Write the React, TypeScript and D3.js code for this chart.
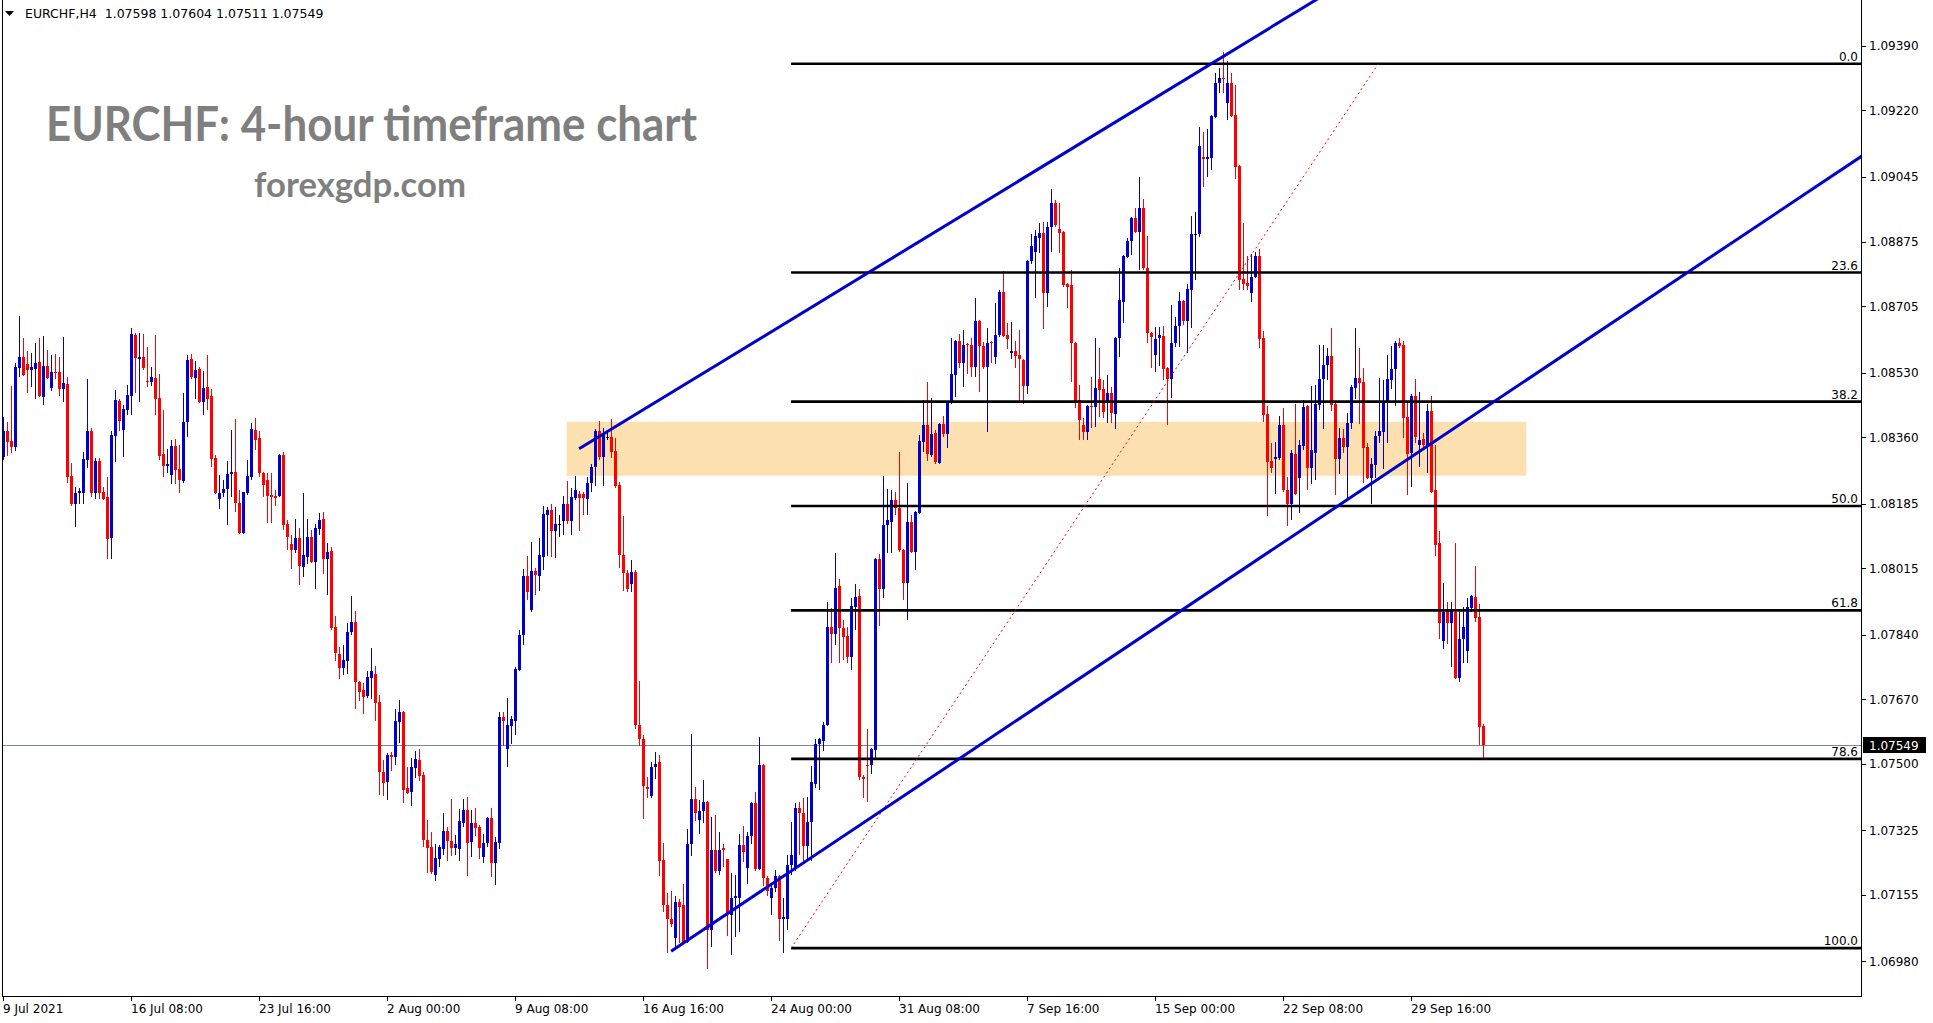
import React, { useEffect, useRef } from 'react';
import * as d3 from 'd3';

const W = 1933;
const H = 1023;
const PLOT = { left: 2, right: 1861, top: 0, bottom: 996 };
const BAR_SPACING = 4;

const headerText = 'EURCHF,H4  1.07598 1.07604 1.07511 1.07549';
const titleText = 'EURCHF: 4-hour timeframe chart';
const siteText = 'forexgdp.com';

// x axis: a label every 32 bars, starting at bar 0
const timeLabels = ['9 Jul 2021', '16 Jul 08:00', '23 Jul 16:00', '2 Aug 00:00', '9 Aug 08:00', '16 Aug 16:00',
  '24 Aug 00:00', '31 Aug 08:00', '7 Sep 16:00', '15 Sep 00:00', '22 Sep 08:00', '29 Sep 16:00'];
const timeLabelStep = 32;

const priceTicks = [1.09390, 1.09220, 1.09045, 1.08875, 1.08705, 1.08530, 1.08360, 1.08185,
  1.08015, 1.07840, 1.07670, 1.07500, 1.07325, 1.07155, 1.06980];
const priceDomain = [1.06888, 1.09511];

// EURCHF H4 candles, 9 Jul 2021 -> 4 Oct 2021
const opens = [
  1.08307, 1.08376, 1.08350, 1.08334, 1.08542, 1.08571, 1.08552, 1.08537, 1.08539, 1.08557,
  1.08465, 1.08547, 1.08489, 1.08531, 1.08531, 1.08486, 1.08500, 1.08257, 1.08183, 1.08212,
  1.08212, 1.08299, 1.08376, 1.08212, 1.08297, 1.08215, 1.08202, 1.08094, 1.08363, 1.08455,
  1.08378, 1.08431, 1.08468, 1.08629, 1.08566, 1.08571, 1.08508, 1.08505, 1.08516, 1.08463,
  1.08315, 1.08284, 1.08260, 1.08336, 1.08276, 1.08244, 1.08400, 1.08566, 1.08516, 1.08539,
  1.08452, 1.08491, 1.08468, 1.08305, 1.08197, 1.08212, 1.08223, 1.08263, 1.08268, 1.08186,
  1.08107, 1.08212, 1.08254, 1.08378, 1.08357, 1.08265, 1.08247, 1.08207, 1.08205, 1.08205,
  1.08312, 1.08131, 1.08078, 1.08062, 1.08094, 1.08018, 1.08044, 1.08097, 1.08031, 1.08118,
  1.08144, 1.08039, 1.08060, 1.07859, 1.07788, 1.07751, 1.07770, 1.07846, 1.07873, 1.07715,
  1.07693, 1.07677, 1.07725, 1.07735, 1.07662, 1.07478, 1.07451, 1.07522, 1.07517, 1.07609,
  1.07636, 1.07435, 1.07425, 1.07488, 1.07509, 1.07470, 1.07298, 1.07280, 1.07206, 1.07248,
  1.07275, 1.07322, 1.07296, 1.07277, 1.07275, 1.07343, 1.07377, 1.07293, 1.07343, 1.07333,
  1.07254, 1.07291, 1.07356, 1.07238, 1.07291, 1.07623, 1.07538, 1.07599, 1.07612, 1.07746,
  1.07838, 1.07994, 1.07904, 1.08007, 1.07994, 1.08044, 1.08154, 1.08168, 1.08113, 1.08131,
  1.08139, 1.08183, 1.08139, 1.08199, 1.08210, 1.08210, 1.08197, 1.08239, 1.08281, 1.08376,
  1.08307, 1.08360, 1.08360, 1.08324, 1.08234, 1.08049, 1.08002, 1.07973, 1.08004, 1.07601,
  1.07564, 1.07438, 1.07414, 1.07491, 1.07504, 1.07246, 1.07127, 1.07090, 1.07040, 1.07135,
  1.07127, 1.07030, 1.07288, 1.07407, 1.07351, 1.07375, 1.07399, 1.07062, 1.07272, 1.07217,
  1.07277, 1.07248, 1.07101, 1.07146, 1.07146, 1.07285, 1.07225, 1.07309, 1.07396, 1.07222,
  1.07496, 1.07198, 1.07146, 1.07172, 1.07204, 1.07090, 1.07090, 1.07233, 1.07222, 1.07383,
  1.07370, 1.07283, 1.07346, 1.07446, 1.07551, 1.07559, 1.07601, 1.07859, 1.07841, 1.07968,
  1.07857, 1.07836, 1.07780, 1.07912, 1.07941, 1.07464, 1.07496, 1.07496, 1.07536, 1.08039,
  1.07960, 1.08128, 1.08136, 1.08194, 1.08173, 1.08062, 1.07975, 1.08136, 1.08057, 1.08160,
  1.08347, 1.08392, 1.08312, 1.08371, 1.08291, 1.08394, 1.08368, 1.08450, 1.08523, 1.08613,
  1.08555, 1.08605, 1.08602, 1.08544, 1.08665, 1.08600, 1.08544, 1.08610, 1.08571, 1.08629,
  1.08742, 1.08629, 1.08581, 1.08587, 1.08576, 1.08563, 1.08494, 1.08824, 1.08847, 1.08884,
  1.08897, 1.08739, 1.08913, 1.08976, 1.08908, 1.08900, 1.08763, 1.08761, 1.08608, 1.08457,
  1.08392, 1.08373, 1.08442, 1.08439, 1.08513, 1.08486, 1.08450, 1.08476, 1.08421, 1.08621,
  1.08716, 1.08834, 1.08876, 1.08937, 1.08900, 1.08963, 1.08805, 1.08634, 1.08576, 1.08621,
  1.08626, 1.08542, 1.08513, 1.08608, 1.08652, 1.08718, 1.08665, 1.08747, 1.08895, 1.08895,
  1.09098, 1.09092, 1.09095, 1.09203, 1.09292, 1.09306, 1.09240, 1.09292, 1.09208, 1.09074,
  1.08776, 1.08766, 1.08739, 1.08781, 1.08837, 1.08621, 1.08421, 1.08297, 1.08302, 1.08305,
  1.08392, 1.08220, 1.08183, 1.08315, 1.08252, 1.08336, 1.08442, 1.08278, 1.08318, 1.08444,
  1.08513, 1.08550, 1.08573, 1.08447, 1.08302, 1.08357, 1.08334, 1.08397, 1.08489, 1.08516,
  1.08505, 1.08334, 1.08252, 1.08286, 1.08363, 1.08373, 1.08452, 1.08510, 1.08539, 1.08608,
  1.08602, 1.08413, 1.08318, 1.08468, 1.08339, 1.08355, 1.08339, 1.08428, 1.08220, 1.08081,
  1.07823, 1.07907, 1.07870, 1.07899, 1.07725, 1.07828, 1.07796, 1.07909, 1.07938, 1.07886,
  1.07598,
];

const highs = [
  1.08413, 1.08400, 1.08494, 1.08555, 1.08679, 1.08621, 1.08587, 1.08581, 1.08608, 1.08621,
  1.08626, 1.08589, 1.08576, 1.08578, 1.08571, 1.08623, 1.08518, 1.08291, 1.08228, 1.08225,
  1.08321, 1.08513, 1.08384, 1.08305, 1.08305, 1.08228, 1.08254, 1.08376, 1.08484, 1.08460,
  1.08444, 1.08497, 1.08647, 1.08634, 1.08634, 1.08631, 1.08597, 1.08544, 1.08629, 1.08526,
  1.08431, 1.08329, 1.08352, 1.08355, 1.08339, 1.08476, 1.08576, 1.08578, 1.08560, 1.08544,
  1.08534, 1.08576, 1.08486, 1.08312, 1.08260, 1.08247, 1.08297, 1.08378, 1.08407, 1.08220,
  1.08215, 1.08299, 1.08397, 1.08410, 1.08376, 1.08268, 1.08265, 1.08265, 1.08220, 1.08315,
  1.08320, 1.08141, 1.08102, 1.08144, 1.08120, 1.08212, 1.08144, 1.08115, 1.08131, 1.08160,
  1.08162, 1.08081, 1.08070, 1.07889, 1.07807, 1.07812, 1.07870, 1.07941, 1.07902, 1.07718,
  1.07712, 1.07743, 1.07804, 1.07756, 1.07680, 1.07509, 1.07528, 1.07530, 1.07643, 1.07667,
  1.07638, 1.07491, 1.07514, 1.07533, 1.07538, 1.07478, 1.07351, 1.07320, 1.07288, 1.07285,
  1.07370, 1.07333, 1.07406, 1.07312, 1.07380, 1.07406, 1.07411, 1.07377, 1.07383, 1.07338,
  1.07314, 1.07359, 1.07383, 1.07306, 1.07636, 1.07636, 1.07672, 1.07625, 1.07754, 1.07852,
  1.08013, 1.08047, 1.08083, 1.08015, 1.08094, 1.08178, 1.08176, 1.08183, 1.08176, 1.08154,
  1.08204, 1.08244, 1.08225, 1.08257, 1.08218, 1.08215, 1.08254, 1.08289, 1.08381, 1.08402,
  1.08384, 1.08376, 1.08407, 1.08358, 1.08242, 1.08152, 1.08010, 1.08036, 1.08010, 1.07717,
  1.07575, 1.07464, 1.07504, 1.07530, 1.07522, 1.07291, 1.07159, 1.07164, 1.07151, 1.07143,
  1.07182, 1.07328, 1.07578, 1.07438, 1.07404, 1.07457, 1.07401, 1.07359, 1.07364, 1.07320,
  1.07288, 1.07250, 1.07212, 1.07206, 1.07314, 1.07335, 1.07320, 1.07399, 1.07425, 1.07570,
  1.07500, 1.07204, 1.07185, 1.07220, 1.07206, 1.07146, 1.07259, 1.07346, 1.07396, 1.07399,
  1.07409, 1.07411, 1.07494, 1.07564, 1.07567, 1.07609, 1.07925, 1.07909, 1.08054, 1.07986,
  1.07878, 1.07859, 1.07936, 1.07973, 1.07960, 1.07470, 1.07591, 1.07540, 1.08041, 1.08052,
  1.08257, 1.08223, 1.08220, 1.08215, 1.08321, 1.08065, 1.08239, 1.08154, 1.08165, 1.08365,
  1.08457, 1.08505, 1.08463, 1.08378, 1.08397, 1.08415, 1.08452, 1.08621, 1.08615, 1.08631,
  1.08642, 1.08608, 1.08621, 1.08726, 1.08668, 1.08610, 1.08647, 1.08613, 1.08713, 1.08747,
  1.08797, 1.08660, 1.08663, 1.08613, 1.08642, 1.08566, 1.08826, 1.08894, 1.08905, 1.08923,
  1.08926, 1.08926, 1.09013, 1.08984, 1.08976, 1.08903, 1.08766, 1.08800, 1.08611, 1.08497,
  1.08410, 1.08444, 1.08518, 1.08621, 1.08594, 1.08510, 1.08523, 1.08491, 1.08623, 1.08805,
  1.08840, 1.08884, 1.08939, 1.08963, 1.09045, 1.08987, 1.08889, 1.08637, 1.08650, 1.08650,
  1.08652, 1.08545, 1.08708, 1.08676, 1.08742, 1.08721, 1.08763, 1.08942, 1.08953, 1.09177,
  1.09163, 1.09171, 1.09208, 1.09319, 1.09332, 1.09374, 1.09350, 1.09319, 1.09287, 1.09077,
  1.08924, 1.08837, 1.08842, 1.08847, 1.08855, 1.08639, 1.08442, 1.08344, 1.08347, 1.08415,
  1.08436, 1.08255, 1.08326, 1.08447, 1.08352, 1.08457, 1.08444, 1.08494, 1.08497, 1.08602,
  1.08602, 1.08594, 1.08647, 1.08450, 1.08384, 1.08381, 1.08423, 1.08497, 1.08647, 1.08594,
  1.08542, 1.08344, 1.08305, 1.08376, 1.08516, 1.08510, 1.08576, 1.08600, 1.08613, 1.08621,
  1.08613, 1.08452, 1.08473, 1.08513, 1.08479, 1.08371, 1.08447, 1.08468, 1.08339, 1.08112,
  1.07975, 1.07925, 1.07925, 1.08080, 1.07899, 1.07912, 1.07936, 1.07944, 1.08020, 1.07920,
  1.07604,
];

const lows = [
  1.08300, 1.08310, 1.08318, 1.08324, 1.08518, 1.08521, 1.08476, 1.08491, 1.08460, 1.08465,
  1.08444, 1.08513, 1.08481, 1.08513, 1.08468, 1.08452, 1.08239, 1.08178, 1.08123, 1.08183,
  1.08183, 1.08278, 1.08202, 1.08197, 1.08197, 1.08194, 1.08039, 1.08039, 1.08294, 1.08376,
  1.08307, 1.08418, 1.08418, 1.08476, 1.08452, 1.08537, 1.08491, 1.08494, 1.08418, 1.08299,
  1.08254, 1.08265, 1.08236, 1.08236, 1.08212, 1.08239, 1.08360, 1.08513, 1.08460, 1.08450,
  1.08418, 1.08431, 1.08281, 1.08210, 1.08170, 1.08202, 1.08128, 1.08202, 1.08162, 1.08104,
  1.08104, 1.08207, 1.08247, 1.08326, 1.08254, 1.08202, 1.08133, 1.08133, 1.08178, 1.08202,
  1.08115, 1.08062, 1.08013, 1.08054, 1.07970, 1.07992, 1.08025, 1.08028, 1.07960, 1.08102,
  1.08000, 1.07944, 1.07852, 1.07770, 1.07722, 1.07733, 1.07736, 1.07838, 1.07644, 1.07665,
  1.07630, 1.07674, 1.07670, 1.07612, 1.07417, 1.07414, 1.07404, 1.07480, 1.07496, 1.07554,
  1.07396, 1.07419, 1.07388, 1.07462, 1.07454, 1.07280, 1.07212, 1.07209, 1.07190, 1.07227,
  1.07259, 1.07243, 1.07256, 1.07259, 1.07243, 1.07333, 1.07204, 1.07254, 1.07309, 1.07248,
  1.07238, 1.07280, 1.07201, 1.07180, 1.07275, 1.07546, 1.07491, 1.07551, 1.07575, 1.07744,
  1.07812, 1.07931, 1.07900, 1.07944, 1.07955, 1.08010, 1.08047, 1.08044, 1.08041, 1.08097,
  1.08102, 1.08131, 1.08102, 1.08194, 1.08113, 1.08154, 1.08154, 1.08215, 1.08231, 1.08299,
  1.08231, 1.08352, 1.08305, 1.08226, 1.08015, 1.07955, 1.07952, 1.07952, 1.07591, 1.07546,
  1.07354, 1.07409, 1.07409, 1.07459, 1.07204, 1.07109, 1.07001, 1.07069, 1.07017, 1.07027,
  1.07027, 1.07027, 1.07257, 1.07349, 1.07314, 1.07343, 1.06959, 1.07017, 1.07212, 1.07206,
  1.07227, 1.07045, 1.06996, 1.07043, 1.07056, 1.07241, 1.07183, 1.07288, 1.07217, 1.07219,
  1.07177, 1.07151, 1.07101, 1.07162, 1.07033, 1.07001, 1.07062, 1.07206, 1.07217, 1.07259,
  1.07243, 1.07248, 1.07243, 1.07435, 1.07430, 1.07533, 1.07599, 1.07765, 1.07812, 1.07765,
  1.07773, 1.07765, 1.07746, 1.07852, 1.07457, 1.07409, 1.07399, 1.07472, 1.07515, 1.07862,
  1.07936, 1.08054, 1.08054, 1.08154, 1.08057, 1.07931, 1.07878, 1.08054, 1.08010, 1.08158,
  1.08321, 1.08297, 1.08307, 1.08290, 1.08288, 1.08360, 1.08331, 1.08448, 1.08465, 1.08542,
  1.08491, 1.08526, 1.08518, 1.08518, 1.08478, 1.08539, 1.08373, 1.08555, 1.08552, 1.08623,
  1.08623, 1.08592, 1.08565, 1.08542, 1.08452, 1.08447, 1.08473, 1.08816, 1.08726, 1.08844,
  1.08644, 1.08702, 1.08847, 1.08913, 1.08844, 1.08755, 1.08700, 1.08505, 1.08436, 1.08352,
  1.08352, 1.08352, 1.08384, 1.08386, 1.08413, 1.08410, 1.08397, 1.08397, 1.08381, 1.08571,
  1.08660, 1.08831, 1.08840, 1.08897, 1.08800, 1.08800, 1.08608, 1.08542, 1.08531, 1.08547,
  1.08510, 1.08392, 1.08463, 1.08597, 1.08597, 1.08655, 1.08581, 1.08647, 1.08774, 1.08887,
  1.09019, 1.09045, 1.09063, 1.09200, 1.09266, 1.09266, 1.09195, 1.09203, 1.09040, 1.08747,
  1.08747, 1.08747, 1.08716, 1.08779, 1.08594, 1.08400, 1.08152, 1.08265, 1.08210, 1.08299,
  1.08215, 1.08125, 1.08141, 1.08207, 1.08160, 1.08326, 1.08220, 1.08236, 1.08247, 1.08431,
  1.08381, 1.08510, 1.08428, 1.08207, 1.08263, 1.08318, 1.08197, 1.08381, 1.08460, 1.08394,
  1.08239, 1.08249, 1.08183, 1.08252, 1.08344, 1.08276, 1.08344, 1.08486, 1.08442, 1.08594,
  1.08357, 1.08207, 1.08228, 1.08344, 1.08281, 1.08326, 1.08265, 1.08212, 1.08047, 1.07828,
  1.07802, 1.07815, 1.07754, 1.07722, 1.07715, 1.07765, 1.07765, 1.07899, 1.07873, 1.07549,
  1.07511,
];

const closes = [
  1.08376, 1.08347, 1.08334, 1.08544, 1.08571, 1.08523, 1.08537, 1.08544, 1.08555, 1.08468,
  1.08547, 1.08516, 1.08531, 1.08529, 1.08486, 1.08502, 1.08254, 1.08183, 1.08212, 1.08218,
  1.08302, 1.08376, 1.08212, 1.08297, 1.08212, 1.08197, 1.08091, 1.08365, 1.08457, 1.08402,
  1.08434, 1.08471, 1.08631, 1.08568, 1.08571, 1.08542, 1.08505, 1.08518, 1.08460, 1.08310,
  1.08284, 1.08289, 1.08336, 1.08273, 1.08247, 1.08400, 1.08563, 1.08518, 1.08537, 1.08452,
  1.08489, 1.08460, 1.08302, 1.08212, 1.08212, 1.08223, 1.08263, 1.08268, 1.08186, 1.08107,
  1.08215, 1.08257, 1.08381, 1.08352, 1.08265, 1.08234, 1.08205, 1.08202, 1.08200, 1.08312,
  1.08128, 1.08097, 1.08062, 1.08094, 1.08020, 1.08049, 1.08097, 1.08031, 1.08120, 1.08141,
  1.08039, 1.08057, 1.07857, 1.07791, 1.07751, 1.07773, 1.07846, 1.07873, 1.07715, 1.07688,
  1.07675, 1.07728, 1.07743, 1.07659, 1.07478, 1.07449, 1.07522, 1.07517, 1.07612, 1.07636,
  1.07430, 1.07422, 1.07491, 1.07512, 1.07467, 1.07298, 1.07277, 1.07214, 1.07251, 1.07280,
  1.07322, 1.07296, 1.07277, 1.07288, 1.07348, 1.07377, 1.07291, 1.07343, 1.07330, 1.07277,
  1.07291, 1.07356, 1.07238, 1.07293, 1.07623, 1.07612, 1.07601, 1.07617, 1.07749, 1.07838,
  1.07994, 1.07952, 1.08007, 1.07997, 1.08049, 1.08157, 1.08168, 1.08113, 1.08131, 1.08131,
  1.08183, 1.08139, 1.08202, 1.08220, 1.08199, 1.08199, 1.08239, 1.08281, 1.08376, 1.08307,
  1.08368, 1.08360, 1.08321, 1.08231, 1.08049, 1.08002, 1.07960, 1.08004, 1.07601, 1.07564,
  1.07441, 1.07433, 1.07491, 1.07498, 1.07243, 1.07127, 1.07090, 1.07077, 1.07135, 1.07122,
  1.07030, 1.07288, 1.07407, 1.07370, 1.07375, 1.07399, 1.07062, 1.07272, 1.07217, 1.07272,
  1.07272, 1.07106, 1.07146, 1.07151, 1.07285, 1.07267, 1.07309, 1.07396, 1.07222, 1.07496,
  1.07198, 1.07164, 1.07172, 1.07204, 1.07090, 1.07096, 1.07233, 1.07259, 1.07383, 1.07370,
  1.07283, 1.07346, 1.07451, 1.07551, 1.07564, 1.07601, 1.07859, 1.07841, 1.07962, 1.07857,
  1.07833, 1.07780, 1.07915, 1.07938, 1.07464, 1.07459, 1.07493, 1.07538, 1.08039, 1.07960,
  1.08128, 1.08141, 1.08194, 1.08173, 1.08062, 1.07975, 1.08136, 1.08057, 1.08162, 1.08350,
  1.08392, 1.08315, 1.08368, 1.08294, 1.08394, 1.08368, 1.08450, 1.08526, 1.08613, 1.08555,
  1.08602, 1.08602, 1.08544, 1.08665, 1.08600, 1.08544, 1.08608, 1.08608, 1.08629, 1.08742,
  1.08626, 1.08618, 1.08587, 1.08573, 1.08565, 1.08494, 1.08824, 1.08863, 1.08889, 1.08897,
  1.08739, 1.08913, 1.08976, 1.08919, 1.08897, 1.08761, 1.08755, 1.08608, 1.08455, 1.08405,
  1.08373, 1.08442, 1.08439, 1.08489, 1.08484, 1.08426, 1.08476, 1.08423, 1.08621, 1.08721,
  1.08837, 1.08876, 1.08937, 1.08900, 1.08963, 1.08805, 1.08634, 1.08623, 1.08618, 1.08629,
  1.08539, 1.08513, 1.08608, 1.08652, 1.08718, 1.08665, 1.08750, 1.08895, 1.08895, 1.09127,
  1.09092, 1.09098, 1.09206, 1.09292, 1.09306, 1.09303, 1.09292, 1.09206, 1.09071, 1.08774,
  1.08763, 1.08758, 1.08781, 1.08837, 1.08618, 1.08418, 1.08294, 1.08278, 1.08307, 1.08392,
  1.08220, 1.08183, 1.08318, 1.08210, 1.08339, 1.08439, 1.08278, 1.08326, 1.08447, 1.08513,
  1.08550, 1.08573, 1.08444, 1.08302, 1.08357, 1.08334, 1.08397, 1.08492, 1.08516, 1.08502,
  1.08331, 1.08252, 1.08289, 1.08363, 1.08376, 1.08452, 1.08513, 1.08539, 1.08608, 1.08600,
  1.08410, 1.08315, 1.08468, 1.08360, 1.08352, 1.08339, 1.08428, 1.08215, 1.08075, 1.07870,
  1.07899, 1.07870, 1.07902, 1.07725, 1.07828, 1.07859, 1.07912, 1.07941, 1.07883, 1.07596,
  1.07549,
];

const lastPrice = 1.07549;

// drawn objects, anchored in (bar index, price)
const fibLow = { bar: 196.9, price: 1.07014 };
const fibHigh = { bar: 343.7, price: 1.09343 };
const fibLevels = [0, 23.6, 38.2, 50.0, 61.8, 78.6, 100.0];

const upperChannel = [{ bar: 143.9, price: 1.08329 }, { bar: 311.7, price: 1.09406 }];
const lowerChannel = [{ bar: 166.9, price: 1.07006 }, { bar: 309.2, price: 1.08007 }];

const zone = { from: 140.8, to: 380.7, top: 1.08400, bottom: 1.08258 };

const BULL = '#0000cc';
const BEAR = '#ff0000';
const AXIS_FONT = '"DejaVu Sans", Verdana, sans-serif';

const App: React.FC = () => {
  const svgRef = useRef<SVGSVGElement>(null);

  useEffect(() => {
    if (!svgRef.current) return;
    const svg = d3.select(svgRef.current);
    svg.selectAll('*').remove();

    const n = closes.length;
    const x = d3.scaleLinear()
      .domain([0, n - 1])
      .range([3.5, 3.5 + BAR_SPACING * (n - 1)]);
    const y = d3.scaleLinear()
      .domain(priceDomain)
      .range([PLOT.bottom, PLOT.top]);

    svg.append('rect').attr('width', W).attr('height', H).attr('fill', '#ffffff');

    svg.append('defs').append('clipPath').attr('id', 'plot-clip')
      .append('rect')
      .attr('x', PLOT.left).attr('y', PLOT.top)
      .attr('width', PLOT.right - PLOT.left).attr('height', PLOT.bottom - PLOT.top);

    const plot = svg.append('g').attr('clip-path', 'url(#plot-clip)');

    // zone
    plot.append('rect')
      .attr('x', x(zone.from))
      .attr('y', y(zone.top))
      .attr('width', x(zone.to) - x(zone.from))
      .attr('height', y(zone.bottom) - y(zone.top))
      .attr('fill', '#fde0b0');

    // bid line
    plot.append('line')
      .attr('x1', PLOT.left).attr('x2', PLOT.right)
      .attr('y1', Math.round(y(lastPrice)) + 0.5).attr('y2', Math.round(y(lastPrice)) + 0.5)
      .attr('stroke', '#778899').attr('stroke-width', 1);

    // candles
    const idx = d3.range(n);
    const colorOf = (i: number) => closes[i] > opens[i] ? BULL : closes[i] < opens[i] ? BEAR : '#000000';

    plot.append('g').selectAll('line')
      .data(idx)
      .join('line')
      .attr('x1', i => x(i)).attr('x2', i => x(i))
      .attr('y1', i => y(highs[i])).attr('y2', i => y(lows[i]))
      .attr('stroke', i => colorOf(i))
      .attr('stroke-width', 1)
      .attr('shape-rendering', 'crispEdges');

    plot.append('g').selectAll('rect')
      .data(idx)
      .join('rect')
      .attr('x', i => x(i) - 1.5)
      .attr('width', 3)
      .attr('y', i => y(Math.max(opens[i], closes[i])))
      .attr('height', i => Math.max(1, y(Math.min(opens[i], closes[i])) - y(Math.max(opens[i], closes[i]))))
      .attr('fill', i => colorOf(i))
      .attr('shape-rendering', 'crispEdges');

    // fibonacci retracement
    const fibRange = fibHigh.price - fibLow.price;
    const fibG = plot.append('g');
    fibG.selectAll('line')
      .data(fibLevels)
      .join('line')
      .attr('x1', x(fibLow.bar)).attr('x2', PLOT.right)
      .attr('y1', d => y(fibHigh.price - fibRange * d / 100))
      .attr('y2', d => y(fibHigh.price - fibRange * d / 100))
      .attr('stroke', '#000000').attr('stroke-width', 2.6);

    plot.append('line')
      .attr('x1', x(fibLow.bar)).attr('y1', y(fibLow.price))
      .attr('x2', x(fibHigh.bar)).attr('y2', y(fibHigh.price))
      .attr('stroke', '#ff0000').attr('stroke-width', 1)
      .attr('stroke-dasharray', '2,3');

    // channel rays, extended to the right edge
    const rightBar = x.invert(PLOT.right + 10);
    const ray = (pts: { bar: number; price: number }[]) => {
      const slope = (pts[1].price - pts[0].price) / (pts[1].bar - pts[0].bar);
      return [pts[0], { bar: rightBar, price: pts[0].price + slope * (rightBar - pts[0].bar) }];
    };
    const lineGen = d3.line<{ bar: number; price: number }>()
      .x(d => x(d.bar))
      .y(d => y(d.price));
    [upperChannel, lowerChannel].forEach(pts => {
      plot.append('path')
        .attr('d', lineGen(ray(pts)))
        .attr('fill', 'none')
        .attr('stroke', BULL)
        .attr('stroke-width', 3);
    });

    // fib labels
    svg.append('g').selectAll('text')
      .data(fibLevels)
      .join('text')
      .attr('x', PLOT.right - 3)
      .attr('y', d => y(fibHigh.price - fibRange * d / 100) - 3)
      .attr('text-anchor', 'end')
      .style('font', `12px ${AXIS_FONT}`)
      .attr('fill', '#000000')
      .text(d => d.toFixed(1));

    // frame
    svg.append('line')
      .attr('x1', PLOT.left + 0.5).attr('x2', PLOT.left + 0.5)
      .attr('y1', PLOT.top).attr('y2', PLOT.bottom)
      .attr('stroke', '#000').attr('stroke-width', 1);
    svg.append('line')
      .attr('x1', PLOT.right + 0.5).attr('x2', PLOT.right + 0.5)
      .attr('y1', PLOT.top).attr('y2', PLOT.bottom + 1)
      .attr('stroke', '#000').attr('stroke-width', 1);
    svg.append('line')
      .attr('x1', PLOT.left).attr('x2', PLOT.right + 1)
      .attr('y1', PLOT.bottom + 0.5).attr('y2', PLOT.bottom + 0.5)
      .attr('stroke', '#000').attr('stroke-width', 1);

    // price axis
    const yAxis = svg.append('g');
    yAxis.selectAll('line')
      .data(priceTicks)
      .join('line')
      .attr('x1', PLOT.right + 1).attr('x2', PLOT.right + 5)
      .attr('y1', d => Math.round(y(d)) + 0.5).attr('y2', d => Math.round(y(d)) + 0.5)
      .attr('stroke', '#000');
    yAxis.selectAll('text')
      .data(priceTicks)
      .join('text')
      .attr('x', PLOT.right + 8)
      .attr('y', d => y(d) + 4.5)
      .style('font', `12px ${AXIS_FONT}`)
      .attr('fill', '#000')
      .text(d => d.toFixed(5));

    // last price tag
    const ly = y(lastPrice);
    svg.append('rect')
      .attr('x', PLOT.right + 2).attr('y', ly - 8)
      .attr('width', 63).attr('height', 16)
      .attr('fill', '#000');
    svg.append('text')
      .attr('x', PLOT.right + 8).attr('y', ly + 4.5)
      .style('font', `12px ${AXIS_FONT}`)
      .attr('fill', '#fff')
      .text(lastPrice.toFixed(5));

    // time axis
    const xAxis = svg.append('g');
    xAxis.selectAll('line')
      .data(timeLabels)
      .join('line')
      .attr('x1', (_, i) => x(i * timeLabelStep)).attr('x2', (_, i) => x(i * timeLabelStep))
      .attr('y1', PLOT.bottom).attr('y2', PLOT.bottom + 5)
      .attr('stroke', '#000')
      .attr('shape-rendering', 'crispEdges');
    xAxis.selectAll('text')
      .data(timeLabels)
      .join('text')
      .attr('x', (_, i) => x(i * timeLabelStep) - 0.5)
      .attr('y', PLOT.bottom + 17)
      .style('font', `12px ${AXIS_FONT}`)
      .attr('fill', '#000')
      .text(d => d);

    // header
    svg.append('path')
      .attr('d', 'M5,11 L14,11 L9.5,16 Z')
      .attr('fill', '#000');
    svg.append('text')
      .attr('x', 25).attr('y', 18)
      .style('font', `12.5px ${AXIS_FONT}`)
      .style('white-space', 'pre')
      .attr('fill', '#000')
      .text(headerText);

    // watermark titles
    svg.append('text')
      .attr('x', 46).attr('y', 141)
      .attr('textLength', 651)
      .attr('lengthAdjust', 'spacingAndGlyphs')
      .style('font', 'bold 48px Lato, "Open Sans", sans-serif')
      .attr('fill', '#7f7f7f')
      .text(titleText);
    svg.append('text')
      .attr('x', 254).attr('y', 197)
      .attr('textLength', 212)
      .attr('lengthAdjust', 'spacingAndGlyphs')
      .style('font', 'bold 34px Lato, "Open Sans", sans-serif')
      .attr('fill', '#7f7f7f')
      .text(siteText);
  }, []);

  return (
    <div style={{ position: 'absolute', left: 0, top: 0, width: W, height: H }}>
      <svg ref={svgRef} width={W} height={H} style={{ display: 'block' }} />
    </div>
  );
};

export default App;
